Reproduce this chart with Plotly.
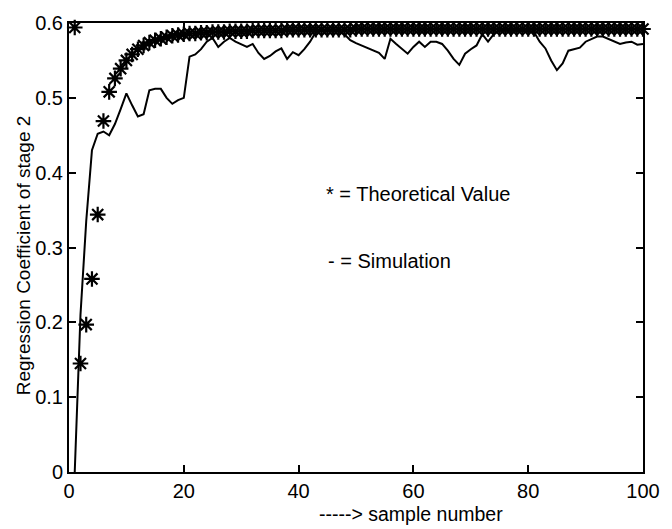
import plotly.graph_objects as go

# sample index
samples = list(range(1, 101))

# theoretical regression coefficient of stage 2
theoretical = [
    0.594, 0.145, 0.197, 0.258, 0.344, 0.469, 0.508, 0.526, 0.539, 0.550,
    0.558, 0.565, 0.570, 0.574, 0.577, 0.579, 0.581, 0.583, 0.584, 0.585,
    0.586, 0.586, 0.587, 0.587, 0.588, 0.588, 0.588, 0.589, 0.589, 0.589,
    0.589, 0.590, 0.590, 0.590, 0.590, 0.590, 0.590, 0.591, 0.591, 0.591,
    0.591, 0.591, 0.591, 0.591, 0.591, 0.591, 0.591, 0.591, 0.591, 0.592,
    0.592, 0.592, 0.592, 0.592, 0.592, 0.592, 0.592, 0.592, 0.592, 0.592,
    0.592, 0.592, 0.592, 0.592, 0.592, 0.592, 0.592, 0.592, 0.592, 0.592,
    0.592, 0.592, 0.592, 0.592, 0.592, 0.592, 0.592, 0.592, 0.592, 0.592,
    0.592, 0.592, 0.592, 0.592, 0.592, 0.592, 0.592, 0.592, 0.592, 0.592,
    0.592, 0.592, 0.592, 0.592, 0.592, 0.592, 0.592, 0.592, 0.592, 0.592,
]

# simulated regression coefficient of stage 2
simulation = [
    0.000, 0.210, 0.335, 0.430, 0.452, 0.455, 0.450, 0.465, 0.485, 0.506,
    0.490, 0.475, 0.478, 0.510, 0.512, 0.512, 0.500, 0.492, 0.497, 0.500,
    0.555, 0.558, 0.565, 0.575, 0.580, 0.568, 0.575, 0.580, 0.575, 0.572,
    0.568, 0.572, 0.560, 0.552, 0.556, 0.562, 0.566, 0.552, 0.561, 0.557,
    0.565, 0.575, 0.588, 0.590, 0.590, 0.590, 0.589, 0.585, 0.577, 0.573,
    0.570, 0.567, 0.563, 0.560, 0.552, 0.579, 0.572, 0.565, 0.559, 0.568,
    0.575, 0.568, 0.575, 0.575, 0.572, 0.563, 0.552, 0.544, 0.559, 0.565,
    0.570, 0.585, 0.575, 0.585, 0.590, 0.590, 0.590, 0.590, 0.590, 0.589,
    0.588, 0.575, 0.566, 0.550, 0.537, 0.546, 0.563, 0.565, 0.567, 0.575,
    0.578, 0.582, 0.582, 0.579, 0.576, 0.572, 0.574, 0.575, 0.571, 0.572,
]

x_ticks = [0, 20, 40, 60, 80, 100]
y_ticks = [0, 0.1, 0.2, 0.3, 0.4, 0.5, 0.6]
y_tick_text = ["0", "0.1", "0.2", "0.3", "0.4", "0.5", "0.6"]

FONT = "Liberation Sans, Arial, Helvetica, sans-serif"

fig = go.Figure()

fig.add_trace(go.Scatter(
    x=samples, y=simulation, mode="lines",
    line=dict(color="black", width=2),
    showlegend=False, cliponaxis=True,
))

fig.add_trace(go.Scatter(
    x=samples, y=theoretical, mode="markers",
    marker=dict(symbol="asterisk-open", size=13, color="black",
                line=dict(color="black", width=2.2)),
    showlegend=False, cliponaxis=False,
))

axis_common = dict(
    showline=True, linecolor="black", linewidth=2, mirror="ticks",
    ticks="inside", ticklen=7, tickwidth=1.5, tickcolor="black",
    showgrid=False, zeroline=False,
    tickfont=dict(family=FONT, size=20, color="black"),
)

fig.update_xaxes(range=[0, 100], tickvals=x_ticks, **axis_common)
fig.update_yaxes(range=[0, 0.6], tickvals=y_ticks, ticktext=y_tick_text,
                 **axis_common)

fig.update_layout(
    width=672, height=529,
    margin=dict(l=69, r=19, t=18, b=57),
    paper_bgcolor="white", plot_bgcolor="white",
    font=dict(family=FONT, size=20, color="black"),
    annotations=[
        dict(text="-----> sample number", xref="paper", yref="paper",
             x=0.596, y=-0.093, xanchor="center", yanchor="middle",
             showarrow=False, font=dict(family=FONT, size=19.5)),
        dict(text="Regression Coefficient of stage 2", xref="paper",
             yref="paper", x=-0.079, y=0.482, xanchor="center",
             yanchor="middle", textangle=-90, showarrow=False,
             font=dict(family=FONT, size=19)),
        dict(text="* = Theoretical Value", xref="x", yref="y",
             x=44.5, y=0.372, xanchor="left", yanchor="middle",
             showarrow=False, font=dict(family=FONT, size=20)),
        dict(text="- = Simulation", xref="x", yref="y",
             x=44.8, y=0.282, xanchor="left", yanchor="middle",
             showarrow=False, font=dict(family=FONT, size=20)),
    ],
)

fig.write_html("out.html")
